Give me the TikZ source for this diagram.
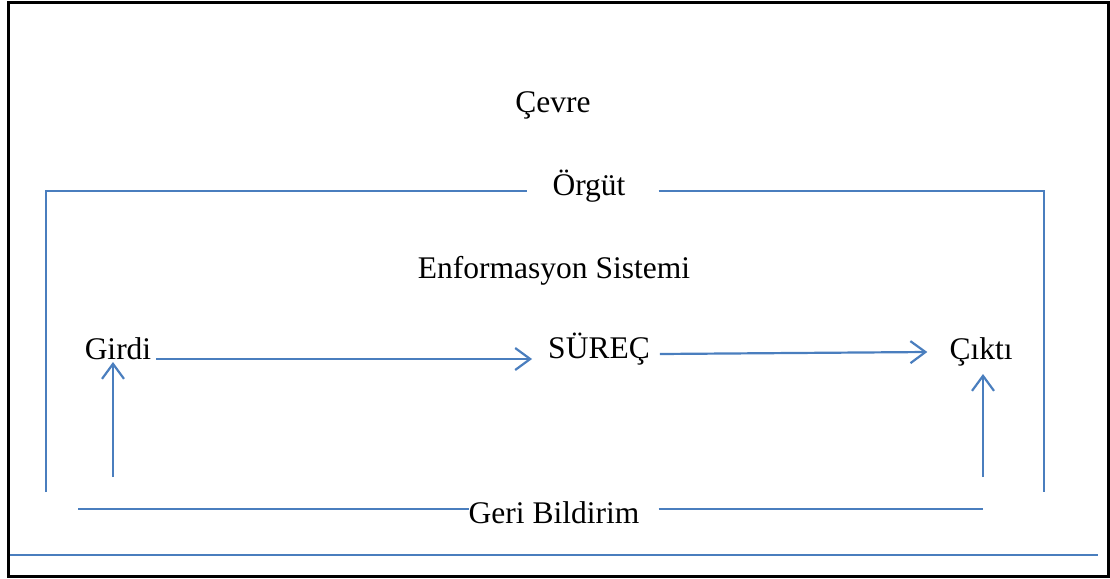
\documentclass[tikz,border=0pt]{standalone}
\usepackage{fontspec}
\setmainfont{Liberation Serif}
\usetikzlibrary{arrows.meta}
\definecolor{lblue}{RGB}{74,126,190}
\begin{document}
\begin{tikzpicture}[x=1pt,y=-1pt,
  lbl/.style={font=\fontsize{31.5}{36}\selectfont, inner sep=0pt, anchor=base, text=black},
  bl/.style={draw=lblue, line width=2.2pt},
  arr/.style={bl, -{Straight Barb[length=15pt,width=22pt,line width=2.2pt]}}]
\useasboundingbox (0,0) rectangle (1110,578);
\draw[line width=3pt] (8,3) rectangle (1108,576.5);
% texts
\node[lbl] (cevre) at (553,112) {Çevre};
\node[lbl] (orgut) at (589,195) {Örgüt};
\node[lbl] (enf) at (554,278) {Enformasyon Sistemi};
\node[lbl] (girdi) at (118,359) {Girdi};
\node[lbl] (surec) at (599,358) {SÜREÇ};
\node[lbl] (cikti) at (981,359) {Çıktı};
\node[lbl] (geri) at (554,523) {Geri Bildirim};
% organisation frame
\coordinate (ol) at (46,492);
\coordinate (or) at (1044,492);
\draw[bl] (ol) -- (46,191) -- ([xshift=-25pt]orgut.west |- 0,191);
\draw[bl] ([xshift=33pt]orgut.east |- 0,191) -- (1044,191) -- (or);
% main flow
\draw[arr] ([xshift=5pt]girdi.base east |- 0,359) -- ([xshift=-16pt]surec.west |- 0,359);
\draw[arr] ([xshift=10pt]surec.east |- 0,354) -- ([xshift=-22pt]cikti.west |- 0,352);
% feedback
\coordinate (fb1) at (113,477);
\coordinate (fb2) at (983,477);
\draw[arr] (fb1) -- (fb1 |- 0,362);
\draw[arr] (fb2) -- (fb2 |- 0,374);
\coordinate (fl) at (78,509);
\coordinate (fr) at (983,509);
\draw[bl] (fl) -- (geri.west |- fl);
\draw[bl] ([xshift=19pt]geri.east |- fr) -- (fr);
% environment line
\coordinate (el) at (10,555);
\coordinate (er) at (1098,555);
\draw[bl] (el) -- (er);
\end{tikzpicture}
\end{document}
